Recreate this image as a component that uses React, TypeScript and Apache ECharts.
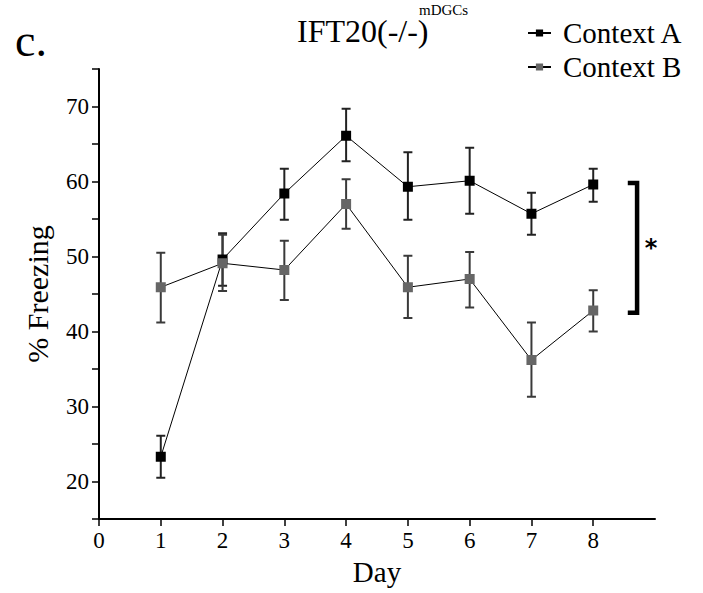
import React, { useEffect, useRef } from "react";
import * as echarts from "echarts";

const days = [1, 2, 3, 4, 5, 6, 7, 8];
const contextA = [23.3, 49.6, 58.4, 66.1, 59.3, 60.1, 55.7, 59.6];
const contextAHigh = [26.1, 53.1, 61.7, 69.7, 63.9, 64.5, 58.5, 61.7];
const contextALow = [20.5, 46.1, 54.9, 62.7, 54.9, 55.7, 52.9, 57.3];
const contextB = [45.9, 49.1, 48.2, 57.0, 45.9, 47.0, 36.2, 42.8];
const contextBHigh = [50.5, 52.9, 52.1, 60.3, 50.1, 50.6, 41.2, 45.5];
const contextBLow = [41.2, 45.4, 44.2, 53.7, 41.8, 43.2, 31.3, 40.0];

const xTickValues = [0, 1, 2, 3, 4, 5, 6, 7, 8];
const yLabelValues = [20, 30, 40, 50, 60, 70];

// significance bracket (data coordinates)
const bracketX = 8.71;
const bracketTop = 59.8;
const bracketBottom = 42.5;

const SERIF = '"Liberation Serif", "Times New Roman", serif';

export default function App() {
  const ref = useRef<HTMLDivElement>(null);

  useEffect(() => {
    const chart = echarts.init(ref.current!, null, { renderer: "svg" });

    const errorBars = (name: string, lo: number[], hi: number[], color: string) => ({
      type: "custom",
      name,
      silent: true,
      z: 1,
      data: days.map((d, i) => [d, lo[i], hi[i]]),
      encode: { x: 0, y: [1, 2] },
      renderItem: (_params: any, api: any) => {
        const x = api.value(0);
        const top = api.coord([x, api.value(2)]);
        const bot = api.coord([x, api.value(1)]);
        const hw = 4.5;
        const st = { stroke: color, lineWidth: 2 };
        return {
          type: "group",
          children: [
            { type: "line", shape: { x1: top[0], y1: top[1], x2: bot[0], y2: bot[1] }, style: st },
            { type: "line", shape: { x1: top[0] - hw, y1: top[1], x2: top[0] + hw, y2: top[1] }, style: st },
            { type: "line", shape: { x1: bot[0] - hw, y1: bot[1], x2: bot[0] + hw, y2: bot[1] }, style: st },
          ],
        };
      },
    });

    const option: any = {
      animation: false,
      backgroundColor: "#fff",
      grid: { left: 99, right: 48, top: 69, bottom: 74 },
      legend: {
        orient: "vertical",
        left: 527,
        top: 16,
        padding: 0,
        itemWidth: 23,
        itemHeight: 9,
        itemGap: 0,
        data: ["Context A", "Context B"],
        textStyle: {
          fontFamily: SERIF,
          fontSize: 29,
          color: "#000",
          lineHeight: 34,
          padding: [0, 0, 0, 7],
        },
      },
      xAxis: {
        type: "value",
        min: 0,
        max: 9,
        interval: 1,
        axisLine: { show: true, onZero: false, lineStyle: { color: "#000", width: 2 } },
        axisTick: { show: true, length: 7, customValues: xTickValues, lineStyle: { color: "#000", width: 1.5 } },
        axisLabel: {
          customValues: xTickValues,
          fontFamily: SERIF,
          fontSize: 23,
          color: "#000",
          margin: 10,
        },
        splitLine: { show: false },
        name: "Day",
        nameLocation: "middle",
        nameGap: 38,
        nameTextStyle: { fontFamily: SERIF, fontSize: 29, color: "#000" },
      },
      yAxis: {
        type: "value",
        min: 15,
        max: 75,
        interval: 5,
        axisLine: { show: true, lineStyle: { color: "#000", width: 2 } },
        axisTick: { show: true, length: 7, lineStyle: { color: "#000", width: 1.5 } },
        axisLabel: {
          formatter: (v: number) => (yLabelValues.includes(v) ? String(v) : ""),
          fontFamily: SERIF,
          fontSize: 23,
          color: "#000",
          margin: 10,
        },
        splitLine: { show: false },
        name: "% Freezing",
        nameLocation: "middle",
        nameGap: 47,
        nameTextStyle: { fontFamily: SERIF, fontSize: 30, color: "#000" },
      },
      graphic: [
        {
          type: "text",
          left: 15,
          top: 17,
          style: { text: "c.", font: `46px ${SERIF}`, fill: "#000" },
        },
        {
          type: "text",
          left: 297,
          top: 15,
          style: { text: "IFT20(-/-)", font: `32px ${SERIF}`, fill: "#000" },
        },
        {
          type: "text",
          left: 419,
          top: 2,
          style: { text: "mDGCs", font: `15px ${SERIF}`, fill: "#000" },
        },
      ],
      series: [
        errorBars("Context A SEM", contextALow, contextAHigh, "#222"),
        errorBars("Context B SEM", contextBLow, contextBHigh, "#3a3a3a"),
        {
          type: "line",
          name: "Context A",
          z: 3,
          data: days.map((d, i) => [d, contextA[i]]),
          symbol: "rect",
          symbolSize: 10,
          itemStyle: { color: "#000" },
          lineStyle: { color: "#000", width: 1 },
        },
        {
          type: "line",
          name: "Context B",
          z: 4,
          data: days.map((d, i) => [d, contextB[i]]),
          symbol: "rect",
          symbolSize: 10,
          itemStyle: { color: "#666" },
          lineStyle: { color: "#000", width: 1 },
        },
        {
          type: "custom",
          name: "significance",
          silent: true,
          z: 5,
          data: [[bracketX, bracketTop, bracketBottom]],
          encode: { x: 0, y: [1, 2] },
          renderItem: (_params: any, api: any) => {
            const x = api.value(0);
            const top = api.coord([x, api.value(1)]);
            const bot = api.coord([x, api.value(2)]);
            const cap = 9.3;
            return {
              type: "group",
              children: [
                {
                  type: "polyline",
                  shape: {
                    points: [
                      [top[0] - cap, top[1]],
                      [top[0], top[1]],
                      [bot[0], bot[1]],
                      [bot[0] - cap, bot[1]],
                    ],
                  },
                  style: { stroke: "#000", lineWidth: 4.5, fill: "none", lineJoin: "miter" },
                },
                {
                  type: "text",
                  x: top[0] + 14,
                  y: (top[1] + bot[1]) / 2,
                  style: {
                    text: "*",
                    font: 'bold 24px "DejaVu Sans", sans-serif',
                    fill: "#000",
                    align: "center",
                    verticalAlign: "middle",
                  },
                },
              ],
            };
          },
        },
      ],
    };

    chart.setOption(option);
    return () => chart.dispose();
  }, []);

  return (
    <div
      ref={ref}
      style={{ position: "fixed", left: 0, top: 0, width: 703, height: 593 }}
    />
  );
}
